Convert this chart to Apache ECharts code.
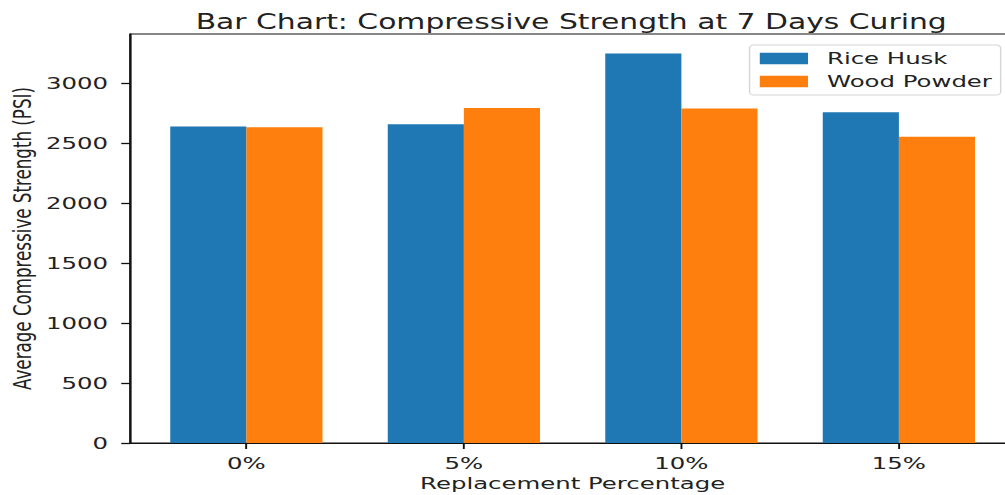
<!DOCTYPE html>
<html>
<head>
<meta charset="utf-8">
<script src="https://cdn.jsdelivr.net/npm/echarts@6/dist/echarts.min.js"></script>
<style>
    html, body { margin: 0; padding: 0; background: #fff; overflow: hidden; }
    #main {
        width: 688px;
        height: 495px;
        transform: scaleX(1.4608);
        transform-origin: 0 0;
    }
</style>
</head>
<body>
<div id="main"></div>
<script>
// data
let categories = ['0%', '5%', '10%', '15%'];
let riceHusk = [2640, 2660, 3250, 2760];
let woodPowder = [2635, 2795, 2790, 2555];
let yTicks = [0, 500, 1000, 1500, 2000, 2500, 3000];

// matplotlib-like autoscale
let xMin = -0.535;
let xMax = 3.535;
let yMax = Math.max(...riceHusk, ...woodPowder) * 1.05;

let chartW = 688;
let chartH = 495;
let gridLeft = 89;
let gridRight = -7;
let gridTop = 34;
let gridBottom = 52;
let plotWidth = chartW - gridLeft - gridRight;
let plotHeight = chartH - gridTop - gridBottom;
let barPx = 0.35 * plotWidth / (xMax - xMin);

// second, invisible grid that only carries the tick marks
let lastCat = categories.length - 1;
let lastTick = yTicks[yTicks.length - 1];
let tickLeft = gridLeft + (0 - xMin) / (xMax - xMin) * plotWidth;
let tickRight = chartW - (gridLeft + (lastCat - xMin) / (xMax - xMin) * plotWidth);
let tickTop = gridTop + (yMax - lastTick) / yMax * plotHeight;

let font = 'DejaVu Sans';
let textColor = '#222';
let lineColor = '#111';

let chart = echarts.init(document.getElementById('main'), null, {renderer: 'svg'});
let option = {
    animation: false,
    title: {
        text: 'Bar Chart: Compressive Strength at 7 Days Curing',
        left: gridLeft + plotWidth / 2 - 6,
        textAlign: 'center',
        top: 7,
        textStyle: {
            fontFamily: font,
            fontSize: 20.4,
            fontWeight: 'normal',
            color: textColor
        }
    },
    legend: {
        orient: 'vertical',
        right: 3,
        top: 45,
        icon: 'rect',
        itemWidth: 33,
        itemHeight: 11.7,
        itemGap: 6,
        padding: [5, 6, 5, 7],
        backgroundColor: '#fff',
        borderColor: '#d6d6d6',
        borderWidth: 1,
        borderRadius: 3,
        textStyle: {
            fontFamily: font,
            fontSize: 16.7,
            lineHeight: 17,
            color: textColor,
            padding: [0, 0, 0, 8]
        },
        data: ['Rice Husk', 'Wood Powder']
    },
    grid: [
        {
            left: gridLeft,
            right: gridRight,
            top: gridTop,
            bottom: gridBottom,
            outerBoundsMode: 'none',
            containLabel: false,
            show: true,
            borderColor: lineColor,
            borderWidth: 1.2
        },
        {
            left: tickLeft,
            right: tickRight,
            top: tickTop,
            bottom: gridBottom,
            outerBoundsMode: 'none',
            containLabel: false
        }
    ],
    xAxis: [
        {
            type: 'value',
            gridIndex: 0,
            min: xMin,
            max: xMax,
            name: 'Replacement Percentage',
            nameLocation: 'middle',
            nameGap: 32,
            nameMoveOverlap: false,
            nameTextStyle: {
                fontFamily: font,
                fontSize: 16.7,
                color: textColor
            },
            splitLine: {show: false},
            axisLine: {show: true, onZero: false, lineStyle: {color: lineColor, width: 1.2}},
            axisTick: {show: false},
            axisLabel: {
                customValues: categories.map((c, i) => i),
                formatter: function (v) {
                    return categories[Math.round(v)];
                },
                margin: 12,
                fontFamily: font,
                fontSize: 16.7,
                color: textColor
            }
        },
        {
            type: 'value',
            gridIndex: 1,
            min: 0,
            max: lastCat,
            interval: 1,
            splitLine: {show: false},
            axisLine: {show: false, onZero: false},
            axisTick: {show: true, length: 6, lineStyle: {color: lineColor, width: 1.3}},
            axisLabel: {show: false}
        }
    ],
    yAxis: [
        {
            type: 'value',
            gridIndex: 0,
            min: 0,
            max: yMax,
            name: 'Average Compressive Strength (PSI)',
            nameLocation: 'middle',
            nameGap: 65,
            nameMoveOverlap: false,
            nameTextStyle: {
                fontFamily: font,
                fontSize: 16.7,
                color: textColor
            },
            splitLine: {show: false},
            axisLine: {show: true, onZero: false, lineStyle: {color: lineColor, width: 1.2}},
            axisTick: {show: false},
            axisLabel: {
                customValues: yTicks,
                formatter: function (v) {
                    return String(v);
                },
                margin: 15,
                fontFamily: font,
                fontSize: 16.7,
                color: textColor
            }
        },
        {
            type: 'value',
            gridIndex: 1,
            min: 0,
            max: lastTick,
            interval: yTicks[1] - yTicks[0],
            offset: tickLeft - gridLeft,
            splitLine: {show: false},
            axisLine: {show: false, onZero: false},
            axisTick: {show: true, length: 6, lineStyle: {color: lineColor, width: 1.3}},
            axisLabel: {show: false}
        }
    ],
    series: [
        {
            name: 'Rice Husk',
            type: 'bar',
            xAxisIndex: 0,
            yAxisIndex: 0,
            barWidth: barPx,
            barGap: '0%',
            itemStyle: {color: '#1f77b4'},
            data: riceHusk.map((v, i) => [i, v])
        },
        {
            name: 'Wood Powder',
            type: 'bar',
            xAxisIndex: 0,
            yAxisIndex: 0,
            barWidth: barPx,
            barGap: '0%',
            itemStyle: {color: '#ff7f0e'},
            data: woodPowder.map((v, i) => [i, v])
        }
    ]
};
chart.setOption(option);
</script>
</body>
</html>
